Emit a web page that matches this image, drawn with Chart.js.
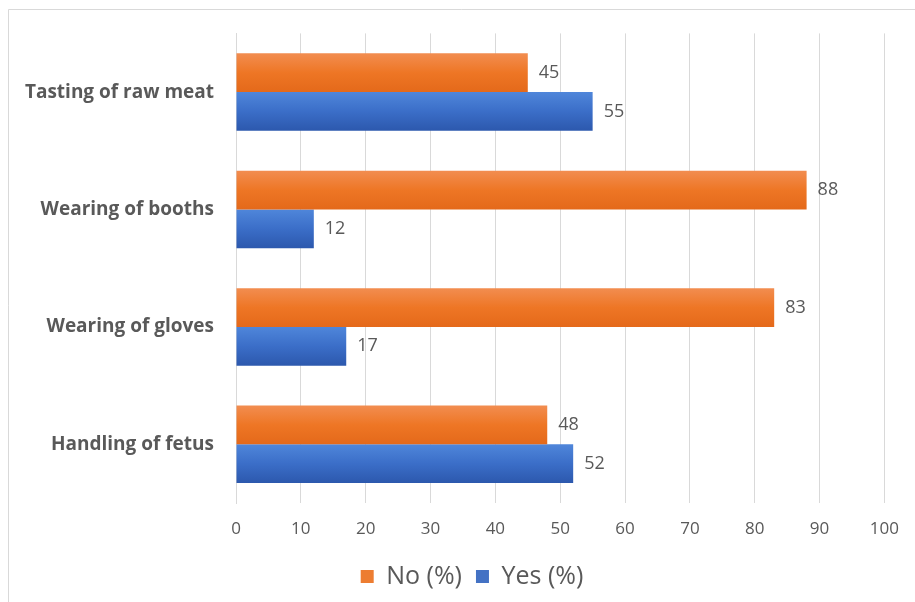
<!DOCTYPE html>
<html>
<head>
<meta charset="utf-8">
<script src="https://cdn.jsdelivr.net/npm/chart.js@4/dist/chart.umd.min.js"></script>
<style>
  html, body { margin: 0; padding: 0; background: #fff; }
  #wrap { position: relative; width: 915px; height: 602px; }
</style>
</head>
<body>
<div id="wrap"><canvas id="barChart" width="915" height="602"></canvas></div>
<script>
// ─── data ───
const categories = ['Tasting of raw meat', 'Wearing of booths', 'Wearing of gloves', 'Handling of fetus'];
const noValues = [45, 88, 83, 48];
const yesValues = [55, 12, 17, 52];
const xTicks = [0, 10, 20, 30, 40, 50, 60, 70, 80, 90, 100];

const textGray = '#595959';
const gridGray = '#d9d9d9';

// gradient fill per bar, light on top, dark at bottom
const gradients = {
    'No (%)': ['#f28d50', '#ee7625', '#e4691a'],
    'Yes (%)': ['#4f86da', '#3b6ec8', '#2c58ad']
};

const barGradient = {
    id: 'barGradient',
    beforeDatasetDraw(chart, args) {
        const ctx = chart.ctx;
        const meta = args.meta;
        const stops = gradients[meta.label];
        meta.data.forEach(bar => {
            const top = bar.y - bar.height / 2;
            const g = ctx.createLinearGradient(0, top, 0, top + bar.height);
            g.addColorStop(0, stops[0]);
            g.addColorStop(0.5, stops[1]);
            g.addColorStop(1, stops[2]);
            bar.options.backgroundColor = g;
        });
    }
};

const valueLabels = {
    id: 'valueLabels',
    afterDatasetsDraw(chart) {
        const ctx = chart.ctx;
        ctx.save();
        ctx.font = '18px "Open Sans"';
        ctx.fillStyle = textGray;
        ctx.textAlign = 'left';
        ctx.textBaseline = 'middle';
        chart.data.datasets.forEach((ds, i) => {
            chart.getDatasetMeta(i).data.forEach((bar, j) => {
                ctx.fillText(ds.data[j], bar.x + 11, bar.y);
            });
        });
        ctx.restore();
    }
};

const frame = {
    id: 'frame',
    beforeDraw(chart) {
        const ctx = chart.ctx;
        ctx.save();
        ctx.fillStyle = '#fff';
        ctx.fillRect(0, 0, chart.width, chart.height);
        ctx.strokeStyle = gridGray;
        ctx.lineWidth = 1;
        ctx.beginPath();
        ctx.moveTo(8.5, chart.height);
        ctx.lineTo(8.5, 9.5);
        ctx.lineTo(chart.width, 9.5);
        ctx.stroke();
        ctx.restore();
    }
};

// legend sits a bit right of the canvas centre in the original
const legendShift = {
    id: 'legendShift',
    afterLayout(chart) {
        chart.legend.left += 24;
        chart.legend.right += 24;
    }
};

new Chart(document.getElementById('barChart').getContext('2d'), {
    type: 'bar',
    data: {
        labels: categories,
        datasets: [
            // scriptable colour so each bar gets its own options object (needed for the gradient)
            { label: 'No (%)', data: noValues, backgroundColor: () => '#ed7d31' },
            { label: 'Yes (%)', data: yesValues, backgroundColor: () => '#4472c4' }
        ]
    },
    options: {
        indexAxis: 'y',
        responsive: false,
        animation: false,
        categoryPercentage: 0.66,
        barPercentage: 1,
        layout: { padding: { left: 10, right: 29, top: 31, bottom: 3 } },
        scales: {
            x: {
                min: 0,
                max: 100,
                afterBuildTicks: s => { s.ticks = xTicks.map(v => ({ value: v })); },
                afterFit: s => { s.height = 47; },
                grid: { color: gridGray, drawTicks: false },
                border: { display: false },
                ticks: {
                    padding: 16,
                    color: textGray,
                    font: { family: 'Open Sans', size: 17 }
                }
            },
            y: {
                afterFit: s => { s.width = 226; },
                grid: { display: false, drawTicks: false },
                border: { color: gridGray },
                ticks: {
                    padding: 22,
                    color: textGray,
                    font: { family: 'Open Sans', size: 19, weight: 'bold' }
                }
            }
        },
        plugins: {
            legend: {
                position: 'bottom',
                labels: {
                    boxWidth: 13,
                    boxHeight: 13,
                    padding: 14,
                    color: textGray,
                    font: { family: 'Open Sans', size: 25 }
                }
            },
            tooltip: { enabled: false }
        }
    },
    plugins: [frame, legendShift, barGradient, valueLabels]
});
</script>
</body>
</html>
